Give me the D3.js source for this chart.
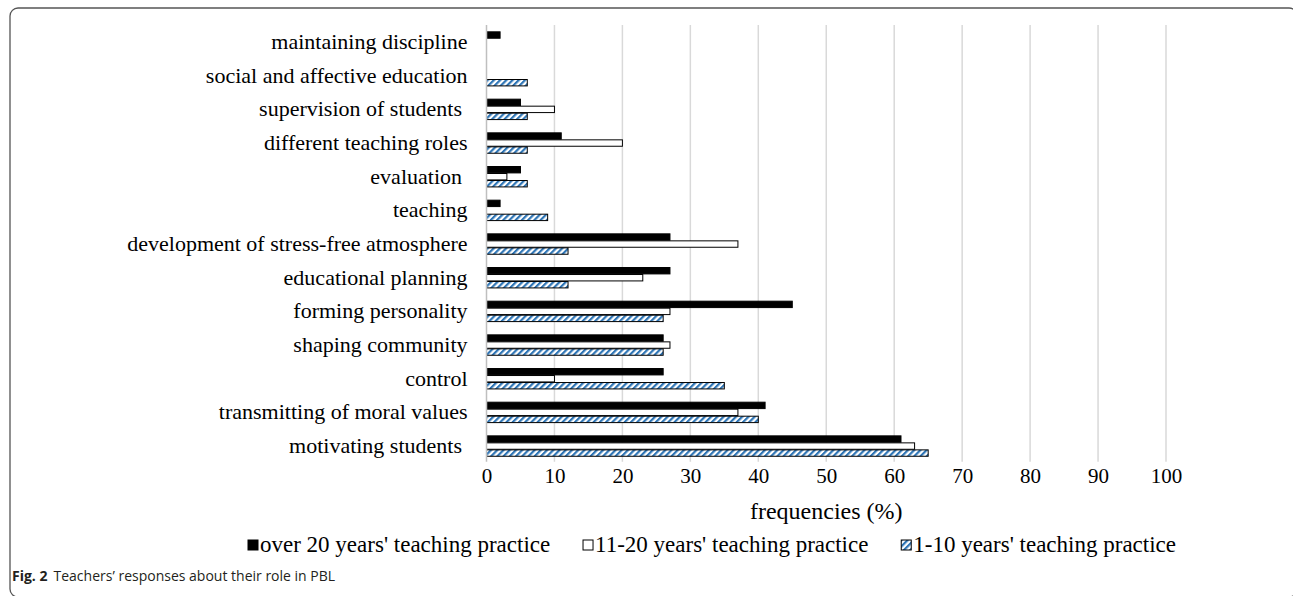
<!DOCTYPE html>
<html>
<head>
<meta charset="utf-8">
<script src="https://cdn.jsdelivr.net/npm/d3@7"></script>
<style>
  body { margin: 0; background: #fff; }
  svg text { fill: #000; white-space: pre; }
</style>
</head>
<body>
<div id="chart"></div>
<script>
// categories, top to bottom
const categories = [
  "maintaining discipline",
  "social and affective education",
  "supervision of students ",
  "different teaching roles",
  "evaluation ",
  "teaching",
  "development of stress-free atmosphere",
  "educational planning",
  "forming personality",
  "shaping community",
  "control",
  "transmitting of moral values",
  "motivating students "
]

// frequencies (%) per group
const over20 = [2, 0, 5, 11, 5, 2, 27, 27, 45, 26, 26, 41, 61]
const years11to20 = [0, 0, 10, 20, 3, 0, 37, 23, 27, 27, 10, 37, 63]
const years1to10 = [0, 6, 6, 6, 6, 9, 12, 12, 26, 26, 35, 40, 65]

const seriesNames = ["over 20 years' teaching practice", "11-20 years' teaching practice", "1-10 years' teaching practice"]
const xTicks = [0, 10, 20, 30, 40, 50, 60, 70, 80, 90, 100]

const W = 1293, H = 596
const dims = { left: 486.5, right: 1166, top: 25, bottom: 462.7 }
const serif = "'Liberation Serif', 'Times New Roman', serif"

const series = [
  { key: 'a', name: seriesNames[0], values: over20, fill: '#000' },
  { key: 'b', name: seriesNames[1], values: years11to20, fill: '#fff' },
  { key: 'c', name: seriesNames[2], values: years1to10, fill: 'url(#hatch)' }
]

const svg = d3.select('#chart').append('svg')
  .attr('width', W)
  .attr('height', H)

// hatch pattern for the 1-10 years series
const defs = svg.append('defs')
defs.append('pattern')
    .attr('id', 'hatch')
    .attr('patternUnits', 'userSpaceOnUse')
    .attr('width', 4.4)
    .attr('height', 4.4)
    .attr('patternTransform', 'rotate(45)')
  .call(p => {
    p.append('rect').attr('width', 4.4).attr('height', 4.4).attr('fill', '#fff')
    p.append('rect').attr('width', 2.2).attr('height', 4.4).attr('fill', '#2e75b6')
  })

// outer frame, runs off the right and bottom edges
svg.append('rect')
  .attr('x', 10).attr('y', 8)
  .attr('width', 1287).attr('height', 589)
  .attr('rx', 8).attr('ry', 8)
  .attr('fill', 'none')
  .attr('stroke', '#555')
  .attr('stroke-width', 1.3)

const x = d3.scaleLinear().domain([0, 100]).range([dims.left, dims.right])

const y = d3.scaleBand()
  .domain(categories)
  .range([dims.top, dims.bottom])
  .paddingInner(0.376)
  .paddingOuter(0.188)

const ySub = d3.scaleBand()
  .domain(series.map(s => s.key))
  .range([0, y.bandwidth()])

// gridlines
svg.append('g')
  .selectAll('line')
  .data(xTicks.slice(1))
  .join('line')
    .attr('x1', d => x(d)).attr('x2', d => x(d))
    .attr('y1', dims.top).attr('y2', dims.bottom - 1)
    .attr('stroke', '#d9d9d9')
    .attr('stroke-width', 1.5)

// bars
const rows = categories.map((c, i) => ({ cat: c, i: i }))
series.forEach(s => {
  svg.append('g')
    .selectAll('rect')
    .data(rows.filter(r => s.values[r.i] > 0))
    .join('rect')
      .attr('x', x(0))
      .attr('y', r => y(r.cat) + ySub(s.key) + 0.5)
      .attr('width', r => x(s.values[r.i]) - x(0))
      .attr('height', ySub.bandwidth() - 0.6)
      .attr('fill', s.fill)
      .attr('stroke', '#000')
      .attr('stroke-width', 1)
})

// vertical axis line
svg.append('line')
  .attr('x1', x(0)).attr('x2', x(0))
  .attr('y1', dims.top).attr('y2', dims.bottom - 1)
  .attr('stroke', '#bfbfbf')
  .attr('stroke-width', 1.5)

// category labels
svg.append('g')
  .selectAll('text')
  .data(categories)
  .join('text')
    .attr('x', 467.5)
    .attr('y', d => y(d) + y.bandwidth() / 2)
    .attr('dy', '0.33em')
    .attr('text-anchor', 'end')
    .style('font-family', serif)
    .style('font-size', '22px')
    .text(d => d)

// x tick labels
const xAxis = d3.axisBottom(x).tickValues(xTicks).tickSize(0).tickPadding(5.5)
svg.append('g')
  .attr('transform', 'translate(0,' + dims.bottom + ')')
  .call(xAxis)
  .call(g => g.select('.domain').remove())
  .selectAll('text')
    .style('font-family', serif)
    .style('font-size', '21px')

// axis title
svg.append('text')
  .attr('x', x(50))
  .attr('y', 519)
  .attr('text-anchor', 'middle')
  .style('font-family', serif)
  .style('font-size', '24px')
  .text('frequencies (%)')

// legend, items spread evenly between the left and right ends
const legendLeft = 248, legendRight = 1176
const legend = svg.append('g')
  .selectAll('g')
  .data(series)
  .join('g')
legend.append('rect')
  .attr('x', 0).attr('y', -5)
  .attr('width', 10).attr('height', 10)
  .attr('fill', d => d.fill)
  .attr('stroke', '#000')
  .attr('stroke-width', 1)
legend.append('text')
  .attr('x', 12)
  .attr('dy', '0.3em')
  .style('font-family', serif)
  .style('font-size', '23px')
  .text(d => d.name)

const widths = []
legend.each(function() { widths.push(12 + d3.select(this).select('text').node().getComputedTextLength()) })
const gap = (legendRight - legendLeft - d3.sum(widths)) / (widths.length - 1)
let lx = legendLeft
legend.attr('transform', (d, i) => {
  const t = 'translate(' + lx + ',545)'
  lx += widths[i] + gap
  return t
})

// caption
const cap = svg.append('text')
  .attr('x', 12)
  .attr('y', 581)
  .style('font-family', "'Open Sans', 'Noto Sans', sans-serif")
  .style('font-size', '14px')
  .style('fill', '#231f20')
cap.append('tspan').style('font-weight', 'bold').text('Fig. 2')
cap.append('tspan').attr('dx', 6).text('Teachers\u2019 responses about their role in PBL')
</script>
</body>
</html>
